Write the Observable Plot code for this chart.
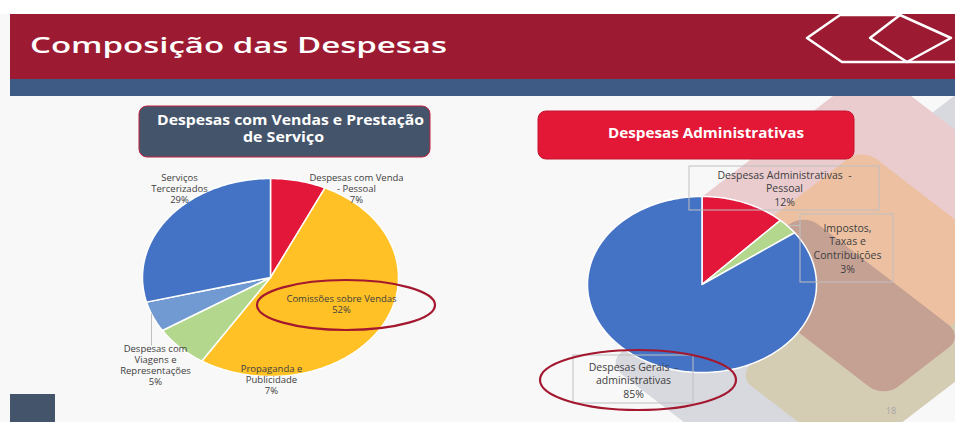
<!DOCTYPE html>
<html>
<head>
<meta charset="utf-8">
<script src="https://cdn.jsdelivr.net/npm/d3@7"></script>
<script src="https://cdn.jsdelivr.net/npm/@observablehq/plot@0.6"></script>
<style>
html, body { margin: 0; padding: 0; }
body { width: 955px; height: 422px; overflow: hidden; position: relative; background: #f8f8f8; font-family: "Open Sans", sans-serif; }
.layer { position: absolute; left: 0; top: 0; }
.layer svg { display: block; }
</style>
</head>
<body>
<svg id="bg" class="layer" width="955" height="422"></svg>
<div id="pie1" class="layer"></div>
<div id="pie2" class="layer"></div>
<svg id="fg" class="layer" width="955" height="422"></svg>
<script>
// ---------- DATA ----------
const pageTitle = "Composição das Despesas";
const vendasTitle = ["Despesas com Vendas e Prestação", "de Serviço"];
const admTitle = "Despesas Administrativas";

const vendasCategories = ["Despesas com Venda - Pessoal", "Comissões sobre Vendas", "Propaganda e Publicidade", "Despesas com Viagens e Representações", "Serviços Tercerizados"];
const vendasValues = [7, 52, 7, 5, 29];
const vendasLabels = ["Despesas com Venda\n- Pessoal", "Comissões sobre Vendas", "Propaganda e\nPublicidade", "Despesas com\nViagens e\nRepresentações", "Serviços\nTercerizados"];
const vendasColors = ["#E2173A", "#FFC125", "#B2D78D", "#709AD1", "#4472C4"];

const admCategories = ["Despesas Administrativas - Pessoal", "Impostos, Taxas e Contribuições", "Despesas Gerais - administrativas"];
const admValues = [12, 3, 85];
const admLabels = ["Despesas Administrativas  -\nPessoal", "Impostos,\nTaxas e\nContribuições", "Despesas Gerais  -\nadministrativas"];
const admColors = ["#E2173A", "#B2D78D", "#4472C4"];

const pageNumber = "18";

// ---------- LAYOUT (pixels) ----------
const layoutVendas = {
  cx: 270, cy: 277, rx: 128, ry: 99, fontSize: 9.5, lineHeight: 1.16,
  labels: [[356, 188], [341, 303.3], [271, 378.8], [155, 364.3], [179, 187.8]],
  boxes: [],
  leaders: [[151, 313, 151, 345]]
};
const layoutAdm = {
  cx: 701.5, cy: 284, rx: 114.5, ry: 88, fontSize: 10.5, lineHeight: 1.29,
  labels: [[784, 187.6], [847, 247.4], [633, 379.6]],
  boxes: [[689, 166, 879, 210], [800, 214, 893, 282], [573, 355, 693, 403]],
  leaders: [[788, 225, 800, 225]]
};

// ---------- PIE BUILDER ----------
function piePoints(cats, values) {
  const total = d3.sum(values);
  let acc = 0;
  const pts = [];
  cats.forEach((c, i) => {
    const a0 = acc / total * 2 * Math.PI;
    acc += values[i];
    const a1 = acc / total * 2 * Math.PI;
    const n = Math.max(2, Math.ceil((a1 - a0) / (Math.PI / 180)));
    pts.push({cat: c, x: 0, y: 0});
    for (let k = 0; k <= n; k++) {
      const a = a0 + (a1 - a0) * k / n;
      pts.push({cat: c, x: Math.sin(a), y: Math.cos(a)});
    }
    pts.push({cat: c, x: 0, y: 0});
  });
  return pts;
}

function makePie(cats, values, labels, colors, L) {
  const ux = px => (px - L.cx) / L.rx;
  const uy = py => (L.cy - py) / L.ry;
  const labelData = cats.map((c, i) => ({
    x: ux(L.labels[i][0]), y: uy(L.labels[i][1]),
    text: `${labels[i]}\n${values[i]}%`
  }));
  const boxData = L.boxes.map(b => ({x1: ux(b[0]), y1: uy(b[1]), x2: ux(b[2]), y2: uy(b[3])}));
  const leaderData = L.leaders.map(b => ({x1: ux(b[0]), y1: uy(b[1]), x2: ux(b[2]), y2: uy(b[3])}));
  return Plot.plot({
    width: 955, height: 422, margin: 0,
    x: {axis: null, domain: [-1, 1], range: [L.cx - L.rx, L.cx + L.rx]},
    y: {axis: null, domain: [-1, 1], range: [L.cy + L.ry, L.cy - L.ry]},
    color: {domain: cats, range: colors},
    style: {background: "transparent", overflow: "visible"},
    marks: [
      Plot.line(piePoints(cats, values), {x: "x", y: "y", z: "cat", fill: "cat", stroke: "white", strokeWidth: 1.5, strokeLinejoin: "round"}),
      Plot.rect(boxData, {x1: "x1", x2: "x2", y1: "y1", y2: "y2", fill: "none", stroke: "#BFBFBF", strokeWidth: 1}),
      Plot.link(leaderData, {x1: "x1", y1: "y1", x2: "x2", y2: "y2", stroke: "#BFBFBF", strokeWidth: 1}),
      Plot.text(labelData, {x: "x", y: "y", text: "text", fontSize: L.fontSize, lineHeight: L.lineHeight, fill: "#404040", fontFamily: "Open Sans"})
    ]
  });
}

document.getElementById("pie1").appendChild(makePie(vendasCategories, vendasValues, vendasLabels, vendasColors, layoutVendas));
document.getElementById("pie2").appendChild(makePie(admCategories, admValues, admLabels, admColors, layoutAdm));

// ---------- SLIDE DECORATION ----------
const shapes = [
  {cx: 714.4, cy: 256.9, w: 200, h: 500, fill: "#D8D9DF"},
  {cx: 645.7, cy: 204.3, w: 160, h: 231, fill: "#EACBCE"},
  {cx: 681.2, cy: 347.9, w: 123.3, h: 200, fill: "#D5CCB4"},
  {cx: 671.5, cy: 262.5, w: 174, h: 150, fill: "#EDC0A2"},
  {cx: 648.9, cy: 305.5, w: 174, h: 87, fill: "#C5A194"}
];
const bg = document.getElementById("bg");
bg.innerHTML = `
  <rect x="0" y="0" width="955" height="14" fill="#ffffff"/>
  <g transform="scale(1.3,1)">
    ${shapes.map(s => `<rect x="${-s.w/2}" y="${-s.h/2}" width="${s.w}" height="${s.h}" rx="16" fill="${s.fill}" transform="translate(${s.cx},${s.cy}) rotate(45)"/>`).join("")}
  </g>
  <rect x="10" y="14" width="945" height="65" fill="#9C1A32"/>
  <rect x="10" y="79" width="945" height="17" fill="#3D5B84"/>
  <text x="30" y="53" font-family="Open Sans" font-weight="600" font-size="22" fill="#ffffff" textLength="417" lengthAdjust="spacingAndGlyphs">${pageTitle}</text>
  <path d="M 900 15 L 840 15 L 807 38 L 842 62 L 955 62" fill="none" stroke="#ffffff" stroke-width="2.5" stroke-linejoin="round" stroke-linecap="round"/>
  <path d="M 900 15 L 870 38 L 907 62 L 951 38 Z" fill="none" stroke="#ffffff" stroke-width="2.5" stroke-linejoin="round"/>
  <rect x="139" y="106" width="291" height="51" rx="8" fill="#44546A" stroke="#C0233F" stroke-width="1"/>
  <text x="157" y="125" font-family="Open Sans" font-weight="700" font-size="14" fill="#ffffff" textLength="267" lengthAdjust="spacingAndGlyphs">${vendasTitle[0]}</text>
  <text x="243" y="141.5" font-family="Open Sans" font-weight="700" font-size="14" fill="#ffffff" textLength="81" lengthAdjust="spacingAndGlyphs">${vendasTitle[1]}</text>
  <rect x="538" y="111" width="316" height="48" rx="8" fill="#E31837" stroke="#C41530" stroke-width="1"/>
  <text x="608" y="138.3" font-family="Open Sans" font-weight="700" font-size="14.5" fill="#ffffff" textLength="196" lengthAdjust="spacingAndGlyphs">${admTitle}</text>
  <rect x="10" y="394" width="45" height="28" fill="#44546A"/>
  <text x="891" y="414" text-anchor="middle" font-family="Open Sans" font-size="9" fill="#A6A6A6">${pageNumber}</text>
`;
const fg = document.getElementById("fg");
fg.innerHTML = `
  <ellipse cx="346" cy="305" rx="89" ry="25" fill="none" stroke="#A3182F" stroke-width="2.2"/>
  <ellipse cx="638" cy="380" rx="98" ry="30" fill="none" stroke="#A3182F" stroke-width="2.2"/>
`;
</script>
</body>
</html>
